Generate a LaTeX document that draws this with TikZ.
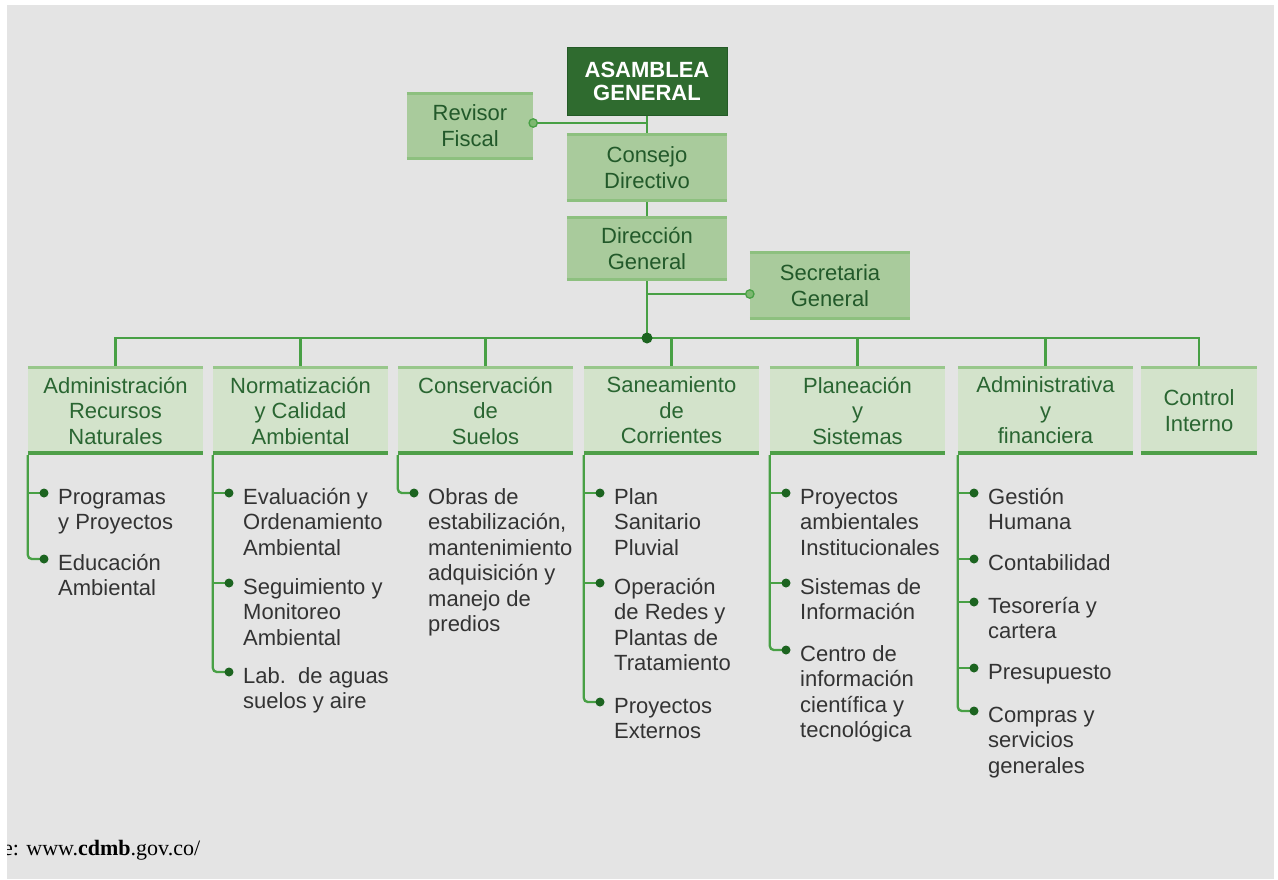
\documentclass[tikz,border=0pt]{standalone}
\usepackage{fontspec}
\setmainfont{Liberation Sans}
\newfontfamily\srcfont{Liberation Serif}
\definecolor{bgc}{HTML}{E4E4E4}
\definecolor{upfill}{HTML}{A9CB9C}
\definecolor{upstrip}{HTML}{8DC07F}
\definecolor{deptfill}{HTML}{D3E3CB}
\definecolor{depttop}{HTML}{98C78B}
\definecolor{deptbot}{HTML}{4F9F49}
\definecolor{asmfill}{HTML}{2F6B2F}
\definecolor{asmdraw}{HTML}{245A27}
\definecolor{uptext}{HTML}{22592A}
\definecolor{depttext}{HTML}{2A6632}
\definecolor{itemtext}{HTML}{333333}
\definecolor{linkc}{HTML}{48A045}
\definecolor{dotc}{HTML}{1C6420}
\definecolor{ringfill}{HTML}{7DB870}
\newcommand\fl{\rule{0pt}{17pt}}
\begin{document}
\begin{tikzpicture}[x=1pt,y=-1pt,
  upbox/.style={fill=upfill, minimum width=160pt, minimum height=69pt, inner sep=0pt,
    align=center, text=uptext, font=\fontsize{22}{26}\selectfont},
  asmbox/.style={fill=asmfill, draw=asmdraw, line width=1pt, minimum width=160pt, minimum height=68pt,
    inner sep=0pt, align=center, text=white, font=\fontsize{22}{23}\selectfont\bfseries},
  deptbox/.style={fill=deptfill, minimum width=175pt, minimum height=89pt, inner sep=0pt,
    align=center, text=depttext, font=\fontsize{22}{25.5}\selectfont},
  item/.style={anchor=north west, inner sep=0pt, align=left, text=itemtext,
    font=\fontsize{22}{25.5}\selectfont, xshift=14pt, yshift=6pt},
  link/.style={draw=linkc, line width=2.3pt},
  bullet/.style={fill=dotc},
  ring/.style={fill=ringfill, draw=linkc, line width=1.3pt}
]
\useasboundingbox (0,0) rectangle (1278,879);
\fill[white] (0,0) rectangle (1278,879);
\fill[bgc] (7,5) rectangle (1274,879);

% upper boxes
\node[asmbox] (asm) at (647,81) {ASAMBLEA\\GENERAL};
\node[upbox, minimum width=126pt, minimum height=68pt] (rev) at (470,126) {Revisor\\Fiscal};
\node[upbox] (con) at (647,167.5) {Consejo\\Directivo};
\node[upbox, minimum height=65pt] (dir) at (647,248.5) {Dirección\\General};
\node[upbox] (sec) at (830,285.5) {Secretaria\\General};
\foreach \n in {rev,con,dir,sec}{
  \draw[upstrip, line width=3pt] ([yshift=-1.5pt]\n.north west) -- ([yshift=-1.5pt]\n.north east);
  \draw[upstrip, line width=3pt] ([yshift=1.5pt]\n.south west) -- ([yshift=1.5pt]\n.south east);
}

% department boxes
\node[deptbox] (d1) at (115.5,410.5) {Administración\\Recursos\\Naturales};
\node[deptbox] (d2) at (300.5,410.5) {Normatización\\y Calidad\\Ambiental};
\node[deptbox] (d3) at (485.5,410.5) {Conservación\\de\\Suelos};
\node[deptbox] (d4) at (671.5,410.5) {Saneamiento\\de\\Corrientes};
\node[deptbox] (d5) at (857.5,410.5) {Planeación\\y\\Sistemas};
\node[deptbox] (d6) at (1045.5,410.5) {Administrativa\\y\\financiera};
\node[deptbox, minimum width=116pt] (d7) at (1199,410.5) {Control\\Interno};
\foreach \n in {d1,d2,d3,d4,d5,d6,d7}{
  \draw[depttop, line width=3pt] ([yshift=-1.5pt]\n.north west) -- ([yshift=-1.5pt]\n.north east);
  \draw[deptbot, line width=4pt] ([yshift=2pt]\n.south west) -- ([yshift=2pt]\n.south east);
}

% main connectors
\coordinate (hub) at (647,338);
\draw[link] (asm.south) -- (con.north);
\draw[link] (con.south) -- (dir.north);
\draw[link] (dir.south) -- (hub);
\draw[link] (d1.north) |- (hub) -| (d7.north);
\foreach \n in {d2,d3,d4,d5,d6}{ \draw[link] (hub) -| (\n.north); }
\fill[dotc] (hub) circle (5.5pt);

\coordinate (revend) at ([yshift=3pt]rev.east);
\draw[link] (revend) -- (revend -| asm.south);
\draw[ring] (revend) circle (4.2pt);
\coordinate (secend) at ([yshift=-8.5pt]sec.west);
\draw[link] (secend) -- (secend -| dir.south);
\draw[ring] (secend) circle (4.2pt);

% list item points
\coordinate (p11) at (44,493);  \coordinate (p12) at (44,559);
\coordinate (p21) at (229,493); \coordinate (p22) at (229,583); \coordinate (p23) at (229,672);
\coordinate (p31) at (414,493);
\coordinate (p41) at (600,493); \coordinate (p42) at (600,583); \coordinate (p43) at (600,702);
\coordinate (p51) at (786,493); \coordinate (p52) at (786,583); \coordinate (p53) at (786,650);
\coordinate (p61) at (974,493); \coordinate (p62) at (974,559); \coordinate (p63) at (974,602);
\coordinate (p64) at (974,668); \coordinate (p65) at (974,711);

% list connectors
\draw[link, rounded corners=4pt] (d1.south west) |- (p12);
\draw[link] (d1.south west |- p11) -- (p11);
\draw[link, rounded corners=4pt] (d2.south west) |- (p23);
\foreach \p in {p21,p22}{ \draw[link] (d2.south west |- \p) -- (\p); }
\draw[link, rounded corners=4pt] (d3.south west) |- (p31);
\draw[link, rounded corners=4pt] (d4.south west) |- (p43);
\foreach \p in {p41,p42}{ \draw[link] (d4.south west |- \p) -- (\p); }
\draw[link, rounded corners=4pt] (d5.south west) |- (p53);
\foreach \p in {p51,p52}{ \draw[link] (d5.south west |- \p) -- (\p); }
\draw[link, rounded corners=4pt] (d6.south west) |- (p65);
\foreach \p in {p61,p62,p63,p64}{ \draw[link] (d6.south west |- \p) -- (\p); }
\foreach \p in {p11,p12,p21,p22,p23,p31,p41,p42,p43,p51,p52,p53,p61,p62,p63,p64,p65}{
  \fill[bullet] (\p) circle (4.5pt);
}

% list texts
\node[item] (t11) at (p11) {\fl Programas\\y Proyectos};
\node[item] (t12) at (p12) {\fl Educación\\Ambiental};
\node[item] (t21) at (p21) {\fl Evaluación y\\Ordenamiento\\Ambiental};
\node[item] (t22) at (p22) {\fl Seguimiento y\\Monitoreo\\Ambiental};
\node[item] (t23) at (p23) {\fl Lab.\ \ de aguas\\suelos y aire};
\node[item] (t31) at (p31) {\fl Obras de\\estabilización,\\mantenimiento\\adquisición y\\manejo de\\predios};
\node[item] (t41) at (p41) {\fl Plan\\Sanitario\\Pluvial};
\node[item] (t42) at (p42) {\fl Operación\\de Redes y\\Plantas de\\Tratamiento};
\node[item] (t43) at (p43) {\fl Proyectos\\Externos};
\node[item] (t51) at (p51) {\fl Proyectos\\ambientales\\Institucionales};
\node[item] (t52) at (p52) {\fl Sistemas de\\Información};
\node[item] (t53) at (p53) {\fl Centro de\\información\\científica y\\tecnológica};
\node[item] (t61) at (p61) {\fl Gestión\\Humana};
\node[item] (t62) at (p62) {\fl Contabilidad};
\node[item] (t63) at (p63) {\fl Tesorería y\\cartera};
\node[item] (t64) at (p64) {\fl Presupuesto};
\node[item] (t65) at (p65) {\fl Compras y\\servicios\\generales};

% source line
\node[anchor=base west, inner sep=0pt, font=\srcfont\fontsize{22}{24}\selectfont, text=black]
  (src) at (3,855) {e: www.\textbf{cdmb}.gov.co/};
\fill[white] (0,0) rectangle (7,879);
\end{tikzpicture}
\end{document}
